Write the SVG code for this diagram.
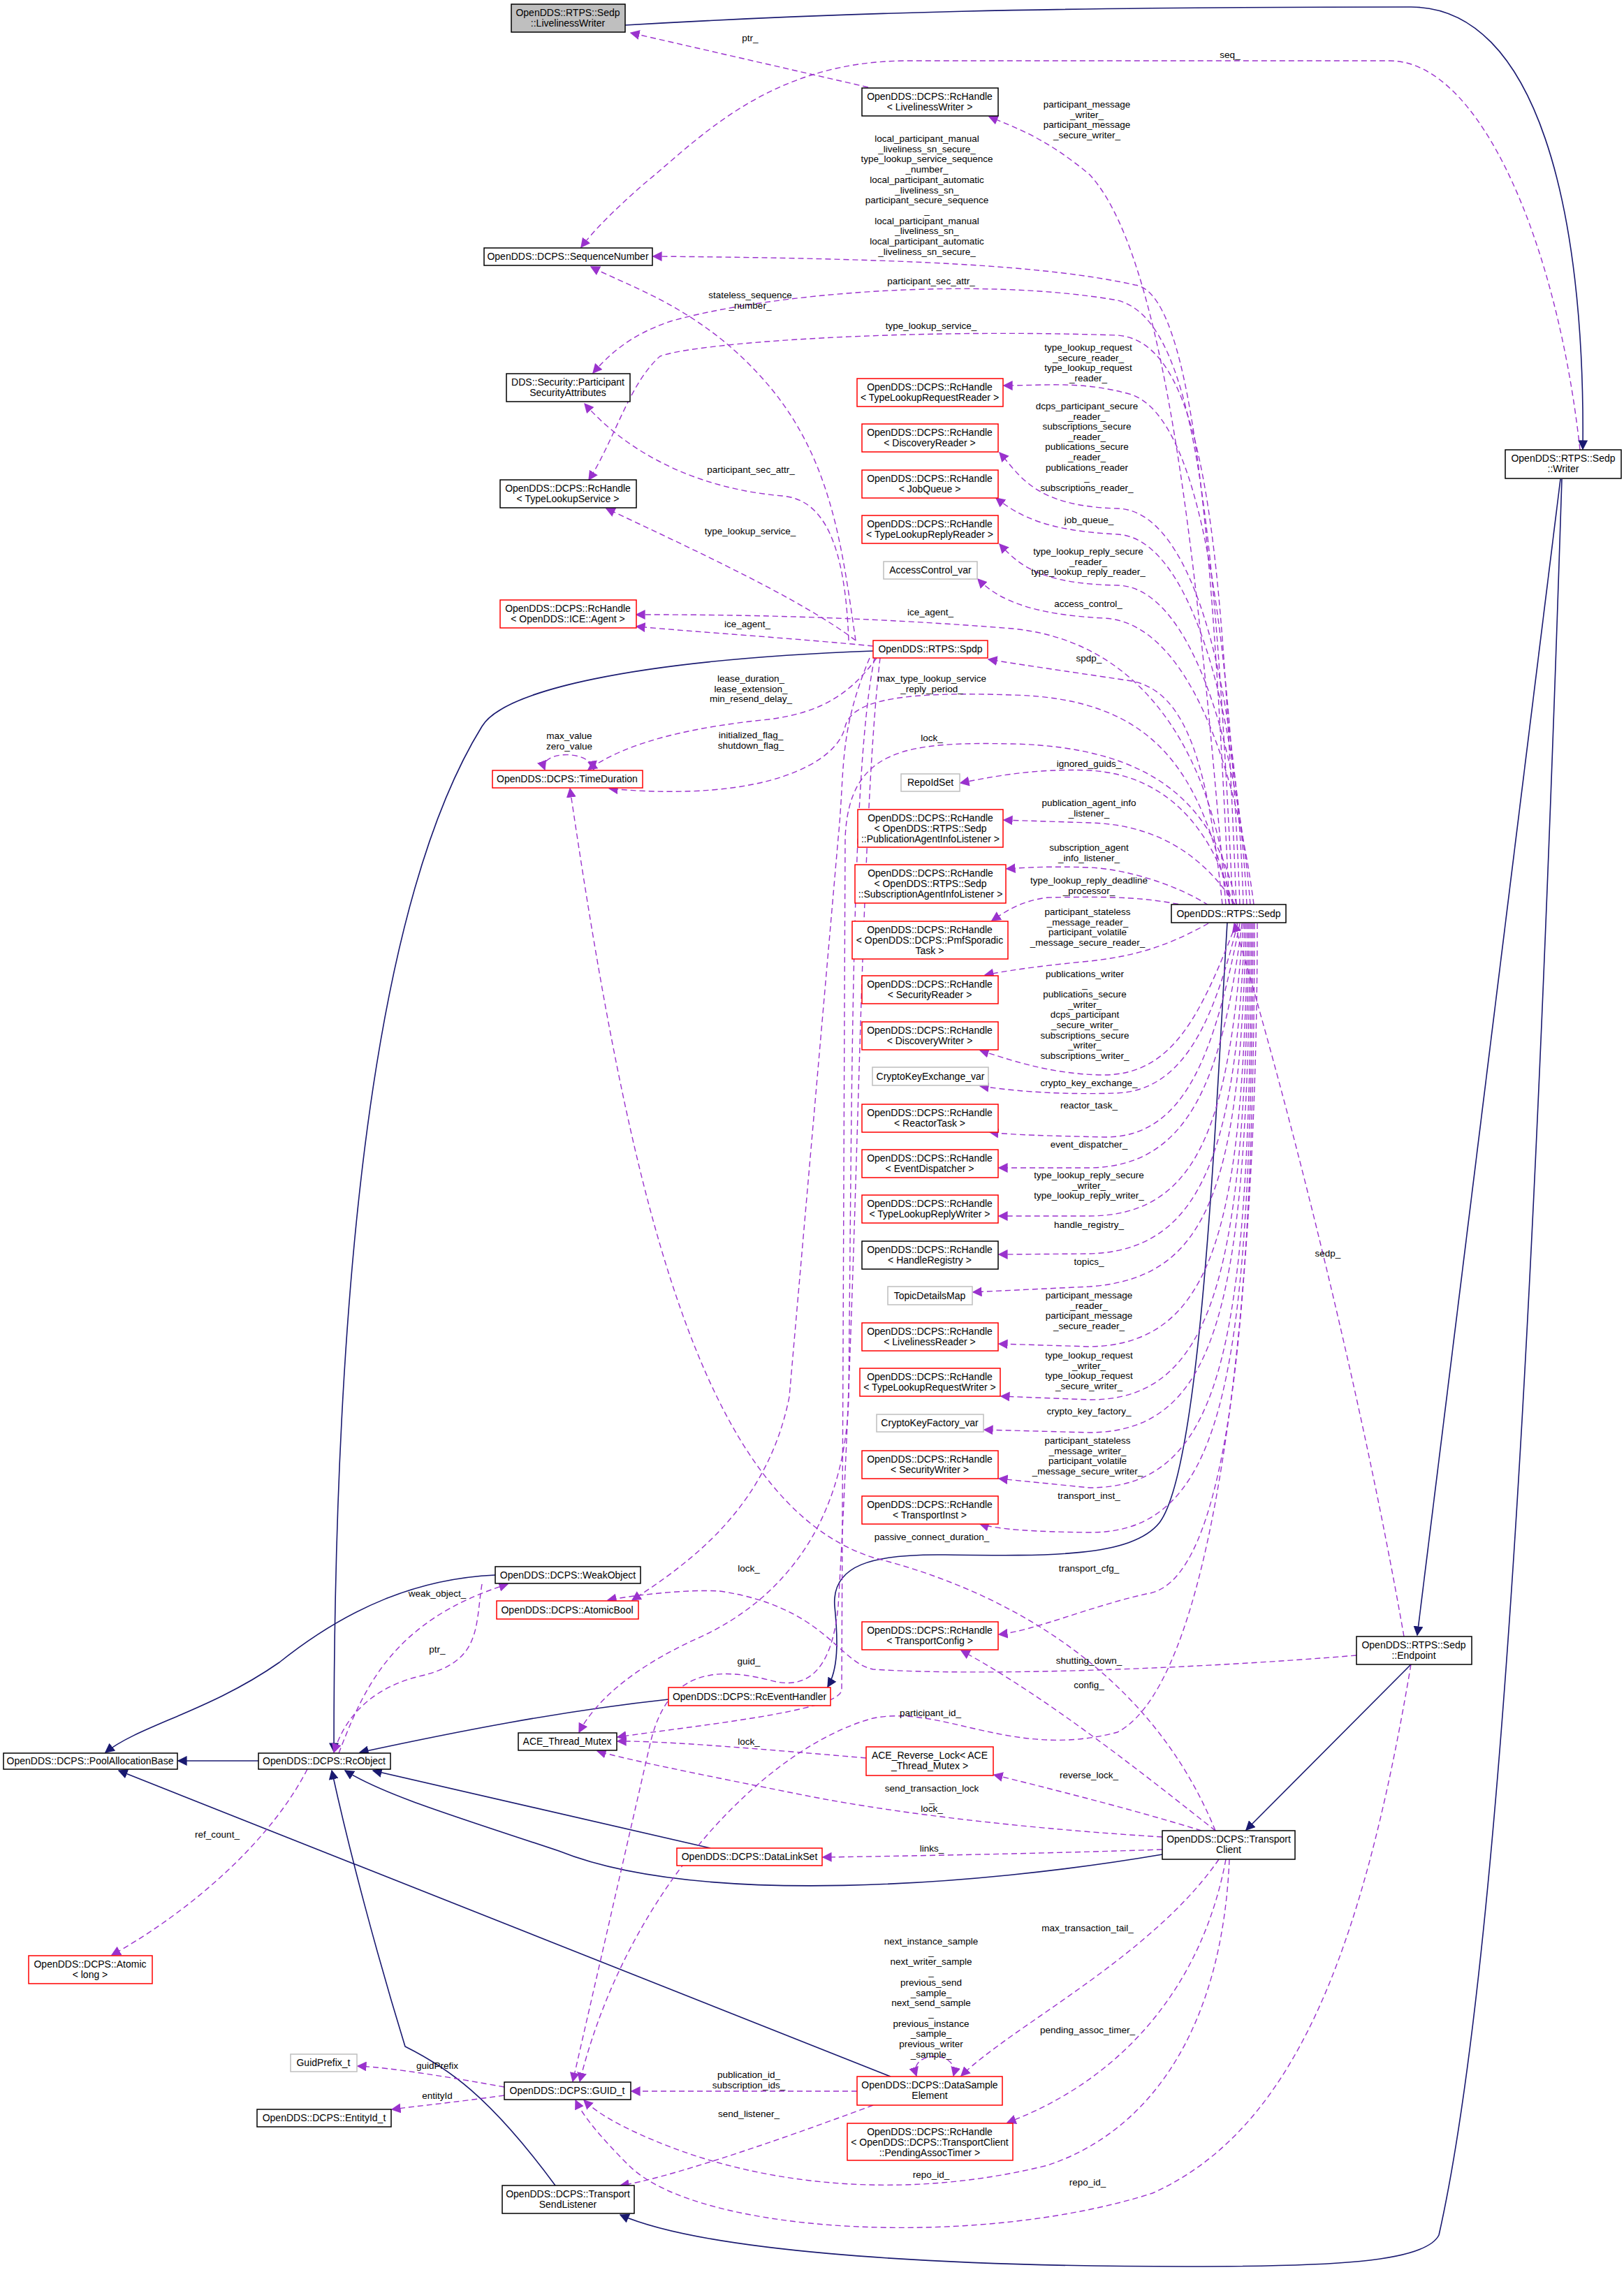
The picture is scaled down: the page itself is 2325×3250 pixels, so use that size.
<svg xmlns="http://www.w3.org/2000/svg" width="2325" height="3250" viewBox="0 0 2325 3250">
<style>
text{font-family:"Liberation Sans",Arial,sans-serif;font-size:14px;fill:#000}
.lbl{font-size:13.5px;text-anchor:middle}
.nt{text-anchor:middle}
rect{fill:#fff;stroke-width:1.5}
.b{stroke:#000}.r{stroke:#ff0000}.g{stroke:#bfbfbf}.f{fill:#bfbfbf;stroke:#000}
.d{fill:none;stroke:#9a32cd;stroke-width:1.4;stroke-dasharray:8,5}
.s{fill:none;stroke:#191970;stroke-width:1.6}
</style>
<defs>
<marker id="ap" viewBox="0 0 10 10" refX="9" refY="5" markerWidth="14" markerHeight="14" markerUnits="userSpaceOnUse" orient="auto-start-reverse"><path d="M0,0L10,5L0,10z" fill="#9a32cd"/></marker>
<marker id="an" viewBox="0 0 10 10" refX="9" refY="5" markerWidth="14" markerHeight="14" markerUnits="userSpaceOnUse" orient="auto"><path d="M0,0L10,5L0,10z" fill="#191970"/></marker>
</defs>
<rect x="0" y="0" width="2325" height="3250" style="fill:#fff;stroke:none"/>
<g id="connectors">
<!-- solid inheritance -->
<path class="s" marker-end="url(#an)" d="M895,36 C1200,18 1500,10 2020,10 C2200,10 2270,300 2266,643"/>
<path class="s" marker-end="url(#an)" d="M2234,686 L2029,2341"/>
<path class="s" marker-end="url(#an)" d="M2236,686 C2200,1800 2150,2800 2060,3200 C2040,3240 1900,3245 1700,3245 C1300,3245 1000,3220 888,3171"/>
<path class="s" marker-end="url(#an)" d="M2020,2383 L1784,2620"/>
<path class="s" marker-end="url(#an)" d="M1664,2655 C1400,2700 1000,2730 800,2650 C650,2600 550,2570 494,2535"/>
<path class="s" marker-end="url(#an)" d="M1017,2646 L534,2535"/>
<path class="s" marker-end="url(#an)" d="M957,2433 C800,2450 650,2480 515,2509"/>
<path class="s" marker-end="url(#an)" d="M1757,1321 C1740,1600 1720,2100 1660,2180 C1620,2230 1500,2228 1350,2226 C1250,2225 1190,2240 1195,2300 C1200,2350 1200,2390 1185,2415"/>
<path class="s" marker-end="url(#an)" d="M1250,932 C900,945 720,990 690,1040 C560,1250 478,1700 478,2508"/>
<path class="s" marker-end="url(#an)" d="M370,2521 L255,2521"/>
<path class="s" marker-end="url(#an)" d="M709,2255 C600,2260 500,2300 400,2380 C300,2450 200,2470 151,2509"/>
<path class="s" marker-end="url(#an)" d="M1275,2973 L170,2535"/>
<path class="s" marker-end="url(#an)" d="M795,3129 C700,3000 640,2960 580,2930 C540,2800 500,2650 475,2535"/>
<!-- dashed usage -->
<path class="d" marker-end="url(#ap)" d="M1243,125 L903,47"/>
<path class="d" marker-end="url(#ap)" d="M1755,1295 C1720,900 1680,380 1560,250 C1500,200 1460,185 1416,167"/>
<path class="d" marker-end="url(#ap)" d="M1760,1295 C1740,900 1720,420 1625,408 C1500,380 1300,370 935,367"/>
<path class="d" marker-end="url(#ap)" d="M2262,644 C2230,350 2120,88 1990,87 L1300,87 C1100,87 1000,200 921,264 C880,300 850,330 832,354"/>
<path class="d" marker-end="url(#ap)" d="M1225,917 C1205,780 1190,650 1090,540 C1000,440 900,410 846,382"/>
<path class="d" marker-end="url(#ap)" d="M1765,1295 C1740,800 1720,460 1600,430 C1400,395 1100,420 960,460 C900,480 870,510 849,534"/>
<path class="d" marker-end="url(#ap)" d="M1215,917 C1210,780 1180,715 1120,710 C1000,700 900,650 837,578"/>
<path class="d" marker-end="url(#ap)" d="M1770,1295 C1750,800 1730,490 1600,480 C1300,470 1000,490 945,510 C900,550 880,630 843,687"/>
<path class="d" marker-end="url(#ap)" d="M1225,917 C1150,860 1000,790 868,728"/>
<path class="d" marker-end="url(#ap)" d="M1775,1295 C1760,900 1720,600 1620,565 C1550,545 1500,552 1437,552"/>
<path class="d" marker-end="url(#ap)" d="M1780,1295 C1770,950 1700,730 1600,728 C1480,725 1460,680 1431,648"/>
<path class="d" marker-end="url(#ap)" d="M1785,1295 C1770,1000 1700,770 1600,765 C1500,760 1460,740 1426,713"/>
<path class="d" marker-end="url(#ap)" d="M1790,1295 C1770,1050 1700,840 1600,838 C1490,836 1460,810 1431,779"/>
<path class="d" marker-end="url(#ap)" d="M1795,1295 C1770,1100 1700,890 1580,885 C1480,880 1430,860 1400,829"/>
<path class="d" marker-end="url(#ap)" d="M1760,1295 C1740,1100 1650,920 1450,900 C1200,880 1000,880 911,880"/>
<path class="d" marker-end="url(#ap)" d="M1250,925 C1150,915 1000,905 911,897"/>
<path class="d" marker-end="url(#ap)" d="M1750,1295 C1730,1100 1700,990 1620,975 C1520,960 1450,950 1415,944"/>
<path class="d" marker-end="url(#ap)" d="M1255,942 C1220,990 1180,1020 1100,1030 C1000,1040 900,1060 842,1102"/>
<path class="d" marker-start="url(#ap)" marker-end="url(#ap)" d="M780,1102 C770,1075 845,1072 850,1102"/>
<path class="d" marker-end="url(#ap)" d="M1760,1295 C1720,1100 1650,1000 1450,995 C1300,990 1220,1000 1210,1040 C1200,1090 1100,1150 872,1129"/>
<path class="d" marker-end="url(#ap)" d="M1740,2621 C1650,2400 1450,2280 1250,2230 C1000,2150 900,1700 816,1129"/>
<path class="d" marker-end="url(#ap)" d="M1765,1295 C1740,1200 1680,1110 1560,1103 C1480,1100 1420,1112 1375,1121"/>
<path class="d" marker-end="url(#ap)" d="M1768,1295 C1720,1220 1650,1180 1560,1178 L1437,1174"/>
<path class="d" marker-end="url(#ap)" d="M1730,1296 C1690,1270 1620,1245 1560,1242 C1500,1240 1470,1242 1441,1244"/>
<path class="d" marker-end="url(#ap)" d="M1700,1297 C1640,1285 1600,1283 1500,1285 C1460,1290 1440,1305 1420,1318"/>
<path class="d" marker-end="url(#ap)" d="M1730,1322 C1680,1350 1630,1370 1550,1377 C1480,1384 1440,1390 1410,1396"/>
<path class="d" marker-end="url(#ap)" d="M1770,1322 C1720,1450 1680,1540 1578,1539 C1500,1538 1440,1515 1403,1504"/>
<path class="d" marker-end="url(#ap)" d="M1772,1322 C1740,1450 1700,1560 1600,1565 C1500,1568 1440,1560 1403,1555"/>
<path class="d" marker-end="url(#ap)" d="M1775,1322 C1740,1500 1700,1630 1580,1628 C1500,1626 1450,1625 1417,1621"/>
<path class="d" marker-end="url(#ap)" d="M1778,1322 C1750,1550 1700,1670 1560,1672 L1430,1672"/>
<path class="d" marker-end="url(#ap)" d="M1780,1322 C1760,1600 1720,1740 1560,1741 L1430,1741"/>
<path class="d" marker-end="url(#ap)" d="M1782,1322 C1770,1650 1720,1790 1560,1795 L1430,1796"/>
<path class="d" marker-end="url(#ap)" d="M1784,1322 C1775,1700 1730,1830 1560,1842 L1393,1850"/>
<path class="d" marker-end="url(#ap)" d="M1786,1322 C1780,1750 1740,1925 1560,1928 L1430,1924"/>
<path class="d" marker-end="url(#ap)" d="M1788,1322 C1782,1800 1745,2005 1560,2004 L1433,1999"/>
<path class="d" marker-end="url(#ap)" d="M1790,1322 C1785,1850 1750,2050 1560,2051 L1409,2047"/>
<path class="d" marker-end="url(#ap)" d="M1792,1322 C1788,1900 1760,2130 1560,2130 L1430,2117"/>
<path class="d" marker-end="url(#ap)" d="M1794,1322 C1790,1950 1760,2195 1560,2194 C1480,2193 1430,2190 1403,2182"/>
<path class="d" marker-end="url(#ap)" d="M1796,1322 C1795,2000 1740,2270 1641,2282 C1560,2300 1480,2335 1430,2340"/>
<path class="d" marker-end="url(#ap)" d="M2010,2343 C1950,2000 1850,1600 1767,1322"/>
<path class="d" marker-end="url(#ap)" d="M1942,2370 C1700,2390 1400,2400 1250,2390 C1200,2380 1180,2300 1030,2278 C980,2275 900,2285 870,2291"/>
<path class="d" marker-end="url(#ap)" d="M1245,942 C1200,1050 1210,1100 1200,1200 L1130,2000 C1100,2150 1000,2230 905,2291"/>
<path class="d" marker-end="url(#ap)" d="M1252,942 C1220,1100 1220,1500 1215,2000 C1210,2200 1100,2300 1000,2345 C900,2390 850,2440 829,2480"/>
<path class="d" marker-end="url(#ap)" d="M1770,1295 C1740,1150 1650,1070 1450,1065 C1300,1062 1215,1070 1210,1200 L1205,2420 C1200,2450 1000,2470 884,2487"/>
<path class="d" marker-end="url(#ap)" d="M1240,2517 C1100,2505 950,2492 884,2493"/>
<path class="d" marker-end="url(#ap)" d="M1664,2630 C1500,2620 1300,2600 1150,2570 C1000,2540 900,2520 855,2507"/>
<path class="d" marker-end="url(#ap)" d="M1720,2621 C1620,2590 1500,2560 1423,2541"/>
<path class="d" marker-end="url(#ap)" d="M1740,2621 C1650,2550 1500,2430 1376,2363"/>
<path class="d" marker-end="url(#ap)" d="M1664,2648 C1450,2655 1250,2658 1178,2659"/>
<path class="d" marker-end="url(#ap)" d="M1800,1322 C1800,1800 1750,2400 1600,2480 C1450,2520 1350,2440 1250,2460 C1100,2500 900,2700 830,2980"/>
<path class="d" marker-end="url(#ap)" d="M1260,942 C1230,1200 1230,1800 1200,2300 C1190,2400 1150,2420 1100,2405 C1000,2380 950,2410 930,2500 L820,2980"/>
<path class="d" marker-end="url(#ap)" d="M485,2510 C520,2420 560,2320 727,2268"/>
<path class="d" marker-end="url(#ap)" d="M690,2268 C680,2330 690,2380 600,2400 C520,2420 490,2470 478,2509"/>
<path class="d" marker-end="url(#ap)" d="M440,2533 C380,2650 250,2750 160,2799"/>
<path class="d" marker-end="url(#ap)" d="M722,2988 C650,2975 560,2960 512,2958"/>
<path class="d" marker-end="url(#ap)" d="M722,3000 C650,3010 600,3015 561,3020"/>
<path class="d" marker-end="url(#ap)" d="M1227,2994 L904,2994"/>
<path class="d" marker-start="url(#ap)" marker-end="url(#ap)" d="M1312,2972 C1300,2935 1375,2935 1365,2972"/>
<path class="d" marker-end="url(#ap)" d="M1745,2662 C1650,2800 1450,2900 1376,2972"/>
<path class="d" marker-end="url(#ap)" d="M1755,2662 C1720,2850 1600,2980 1442,3039"/>
<path class="d" marker-end="url(#ap)" d="M1250,3014 C1100,3070 950,3120 888,3129"/>
<path class="d" marker-end="url(#ap)" d="M1760,2662 C1750,2900 1650,3050 1500,3100 C1300,3150 1100,3130 950,3070 C900,3050 860,3030 836,3007"/>
<path class="d" marker-end="url(#ap)" d="M2020,2383 C1950,2800 1850,3050 1650,3140 C1400,3220 1000,3200 900,3100 C860,3060 835,3030 824,3007"/>
<!-- labels -->
<text class="lbl" x="1074" y="59">ptr_</text>
<text class="lbl" x="1761" y="83">seq_</text>
<text class="lbl" x="1556" y="154">participant_message<tspan x="1556" dy="14.5">_writer_</tspan><tspan x="1556" dy="14.5">participant_message</tspan><tspan x="1556" dy="14.5">_secure_writer_</tspan></text>
<text class="lbl" x="1327" y="203">local_participant_manual<tspan x="1327" dy="14.7">_liveliness_sn_secure_</tspan><tspan x="1327" dy="14.7">type_lookup_service_sequence</tspan><tspan x="1327" dy="14.7">_number_</tspan><tspan x="1327" dy="14.7">local_participant_automatic</tspan><tspan x="1327" dy="14.7">_liveliness_sn_</tspan><tspan x="1327" dy="14.7">participant_secure_sequence</tspan><tspan x="1327" dy="14.7">_</tspan><tspan x="1327" dy="14.7">local_participant_manual</tspan><tspan x="1327" dy="14.7">_liveliness_sn_</tspan><tspan x="1327" dy="14.7">local_participant_automatic</tspan><tspan x="1327" dy="14.7">_liveliness_sn_secure_</tspan></text>
<text class="lbl" x="1333" y="407">participant_sec_attr_</text>
<text class="lbl" x="1074" y="427">stateless_sequence<tspan x="1074" dy="14.5">_number_</tspan></text>
<text class="lbl" x="1333" y="471">type_lookup_service_</text>
<text class="lbl" x="1558" y="502">type_lookup_request<tspan x="1558" dy="14.5">_secure_reader_</tspan><tspan x="1558" dy="14.5">type_lookup_request</tspan><tspan x="1558" dy="14.5">_reader_</tspan></text>
<text class="lbl" x="1556" y="586">dcps_participant_secure<tspan x="1556" dy="14.6">_reader_</tspan><tspan x="1556" dy="14.6">subscriptions_secure</tspan><tspan x="1556" dy="14.6">_reader_</tspan><tspan x="1556" dy="14.6">publications_secure</tspan><tspan x="1556" dy="14.6">_reader_</tspan><tspan x="1556" dy="14.6">publications_reader</tspan><tspan x="1556" dy="14.6">_</tspan><tspan x="1556" dy="14.6">subscriptions_reader_</tspan></text>
<text class="lbl" x="1075" y="677">participant_sec_attr_</text>
<text class="lbl" x="1559" y="749">job_queue_</text>
<text class="lbl" x="1074" y="765">type_lookup_service_</text>
<text class="lbl" x="1558" y="794">type_lookup_reply_secure<tspan x="1558" dy="14.5">_reader_</tspan><tspan x="1558" dy="14.5">type_lookup_reply_reader_</tspan></text>
<text class="lbl" x="1558" y="869">access_control_</text>
<text class="lbl" x="1332" y="881">ice_agent_</text>
<text class="lbl" x="1070" y="898">ice_agent_</text>
<text class="lbl" x="1559" y="947">spdp_</text>
<text class="lbl" x="1334" y="976">max_type_lookup_service<tspan x="1334" dy="14.5">_reply_period_</tspan></text>
<text class="lbl" x="1075" y="976">lease_duration_<tspan x="1075" dy="14.5">lease_extension_</tspan><tspan x="1075" dy="14.5">min_resend_delay_</tspan></text>
<text class="lbl" x="815" y="1058">max_value<tspan x="815" dy="15">zero_value</tspan></text>
<text class="lbl" x="1075" y="1057">initialized_flag_<tspan x="1075" dy="14.5">shutdown_flag_</tspan></text>
<text class="lbl" x="1334" y="1061">lock_</text>
<text class="lbl" x="1559" y="1098">ignored_guids_</text>
<text class="lbl" x="1559" y="1154">publication_agent_info<tspan x="1559" dy="14.5">_listener_</tspan></text>
<text class="lbl" x="1559" y="1218">subscription_agent<tspan x="1559" dy="14.5">_info_listener_</tspan></text>
<text class="lbl" x="1559" y="1265">type_lookup_reply_deadline<tspan x="1559" dy="14.5">_processor_</tspan></text>
<text class="lbl" x="1557" y="1310">participant_stateless<tspan x="1557" dy="14.5">_message_reader_</tspan><tspan x="1557" dy="14.5">participant_volatile</tspan><tspan x="1557" dy="14.5">_message_secure_reader_</tspan></text>
<text class="lbl" x="1553" y="1399">publications_writer<tspan x="1553" dy="14.6">_</tspan><tspan x="1553" dy="14.6">publications_secure</tspan><tspan x="1553" dy="14.6">_writer_</tspan><tspan x="1553" dy="14.6">dcps_participant</tspan><tspan x="1553" dy="14.6">_secure_writer_</tspan><tspan x="1553" dy="14.6">subscriptions_secure</tspan><tspan x="1553" dy="14.6">_writer_</tspan><tspan x="1553" dy="14.6">subscriptions_writer_</tspan></text>
<text class="lbl" x="1559" y="1555">crypto_key_exchange_</text>
<text class="lbl" x="1559" y="1587">reactor_task_</text>
<text class="lbl" x="1559" y="1643">event_dispatcher_</text>
<text class="lbl" x="1559" y="1687">type_lookup_reply_secure<tspan x="1559" dy="14.5">_writer_</tspan><tspan x="1559" dy="14.5">type_lookup_reply_writer_</tspan></text>
<text class="lbl" x="1559" y="1758">handle_registry_</text>
<text class="lbl" x="1901" y="1799">sedp_</text>
<text class="lbl" x="1559" y="1811">topics_</text>
<text class="lbl" x="1559" y="1859">participant_message<tspan x="1559" dy="14.6">_reader_</tspan><tspan x="1559" dy="14.6">participant_message</tspan><tspan x="1559" dy="14.6">_secure_reader_</tspan></text>
<text class="lbl" x="1559" y="1945">type_lookup_request<tspan x="1559" dy="14.6">_writer_</tspan><tspan x="1559" dy="14.6">type_lookup_request</tspan><tspan x="1559" dy="14.6">_secure_writer_</tspan></text>
<text class="lbl" x="1559" y="2025">crypto_key_factory_</text>
<text class="lbl" x="1557" y="2067">participant_stateless<tspan x="1557" dy="14.6">_message_writer_</tspan><tspan x="1557" dy="14.6">participant_volatile</tspan><tspan x="1557" dy="14.6">_message_secure_writer_</tspan></text>
<text class="lbl" x="1559" y="2146">transport_inst_</text>
<text class="lbl" x="1334" y="2205">passive_connect_duration_</text>
<text class="lbl" x="1559" y="2250">transport_cfg_</text>
<text class="lbl" x="1072" y="2250">lock_</text>
<text class="lbl" x="626" y="2286">weak_object_</text>
<text class="lbl" x="626" y="2366">ptr_</text>
<text class="lbl" x="1559" y="2382">shutting_down_</text>
<text class="lbl" x="1072" y="2383">guid_</text>
<text class="lbl" x="1559" y="2417">config_</text>
<text class="lbl" x="1332" y="2457">participant_id_</text>
<text class="lbl" x="1072" y="2498">lock_</text>
<text class="lbl" x="1559" y="2546">reverse_lock_</text>
<text class="lbl" x="1334" y="2565">send_transaction_lock<tspan x="1334" dy="14.5">_</tspan><tspan x="1334" dy="14.5">lock_</tspan></text>
<text class="lbl" x="311" y="2631">ref_count_</text>
<text class="lbl" x="1334" y="2651">links_</text>
<text class="lbl" x="1557" y="2765">max_transaction_tail_</text>
<text class="lbl" x="1333" y="2784">next_instance_sample<tspan x="1333" dy="14.7">_</tspan><tspan x="1333" dy="14.7">next_writer_sample</tspan><tspan x="1333" dy="14.7">_</tspan><tspan x="1333" dy="14.7">previous_send</tspan><tspan x="1333" dy="14.7">_sample_</tspan><tspan x="1333" dy="14.7">next_send_sample</tspan><tspan x="1333" dy="14.7">_</tspan><tspan x="1333" dy="14.7">previous_instance</tspan><tspan x="1333" dy="14.7">_sample_</tspan><tspan x="1333" dy="14.7">previous_writer</tspan><tspan x="1333" dy="14.7">_sample_</tspan></text>
<text class="lbl" x="1557" y="2911">pending_assoc_timer_</text>
<text class="lbl" x="626" y="2962">guidPrefix</text>
<text class="lbl" x="1072" y="2975">publication_id_<tspan x="1072" dy="14.5">subscription_ids_</tspan></text>
<text class="lbl" x="626" y="3005">entityId</text>
<text class="lbl" x="1072" y="3031">send_listener_</text>
<text class="lbl" x="1333" y="3118">repo_id_</text>
<text class="lbl" x="1557" y="3129">repo_id_</text>
</g>
<g id="n1"><rect class="f" x="732" y="6" width="163" height="40"/><text class="nt" x="813" y="23">OpenDDS::RTPS::Sedp</text><text class="nt" x="813" y="38">::LivelinessWriter</text></g>
<g id="n2"><rect class="b" x="1234" y="126" width="195" height="40"/><text class="nt" x="1331" y="143">OpenDDS::DCPS::RcHandle</text><text class="nt" x="1331" y="158">&lt; LivelinessWriter &gt;</text></g>
<g id="n3"><rect class="b" x="693" y="355" width="241" height="25"/><text class="nt" x="813" y="372">OpenDDS::DCPS::SequenceNumber</text></g>
<g id="n4"><rect class="b" x="725" y="535" width="177" height="40"/><text class="nt" x="813" y="552">DDS::Security::Participant</text><text class="nt" x="813" y="567">SecurityAttributes</text></g>
<g id="n5"><rect class="b" x="716" y="687" width="195" height="40"/><text class="nt" x="813" y="704">OpenDDS::DCPS::RcHandle</text><text class="nt" x="813" y="719">&lt; TypeLookupService &gt;</text></g>
<g id="n6"><rect class="r" x="716" y="859" width="195" height="40"/><text class="nt" x="813" y="876">OpenDDS::DCPS::RcHandle</text><text class="nt" x="813" y="891">&lt; OpenDDS::ICE::Agent &gt;</text></g>
<g id="n7"><rect class="r" x="1227" y="542" width="209" height="40"/><text class="nt" x="1331" y="559">OpenDDS::DCPS::RcHandle</text><text class="nt" x="1331" y="574">&lt; TypeLookupRequestReader &gt;</text></g>
<g id="n8"><rect class="r" x="1234" y="607" width="195" height="40"/><text class="nt" x="1331" y="624">OpenDDS::DCPS::RcHandle</text><text class="nt" x="1331" y="639">&lt; DiscoveryReader &gt;</text></g>
<g id="n9"><rect class="r" x="1234" y="673" width="195" height="40"/><text class="nt" x="1331" y="690">OpenDDS::DCPS::RcHandle</text><text class="nt" x="1331" y="705">&lt; JobQueue &gt;</text></g>
<g id="n10"><rect class="r" x="1234" y="738" width="195" height="40"/><text class="nt" x="1331" y="755">OpenDDS::DCPS::RcHandle</text><text class="nt" x="1331" y="770">&lt; TypeLookupReplyReader &gt;</text></g>
<g id="n11"><rect class="g" x="1265" y="804" width="134" height="25"/><text class="nt" x="1332" y="821">AccessControl_var</text></g>
<g id="n12"><rect class="r" x="1250" y="917" width="164" height="25"/><text class="nt" x="1332" y="934">OpenDDS::RTPS::Spdp</text></g>
<g id="n13"><rect class="r" x="705" y="1103" width="215" height="25"/><text class="nt" x="812" y="1120">OpenDDS::DCPS::TimeDuration</text></g>
<g id="n14"><rect class="g" x="1290" y="1108" width="84" height="25"/><text class="nt" x="1332" y="1125">RepoIdSet</text></g>
<g id="n15"><rect class="r" x="1228" y="1159" width="208" height="54"/><text class="nt" x="1332" y="1176">OpenDDS::DCPS::RcHandle</text><text class="nt" x="1332" y="1191">&lt; OpenDDS::RTPS::Sedp</text><text class="nt" x="1332" y="1206">::PublicationAgentInfoListener &gt;</text></g>
<g id="n16"><rect class="r" x="1224" y="1238" width="216" height="55"/><text class="nt" x="1332" y="1255">OpenDDS::DCPS::RcHandle</text><text class="nt" x="1332" y="1270">&lt; OpenDDS::RTPS::Sedp</text><text class="nt" x="1332" y="1285">::SubscriptionAgentInfoListener &gt;</text></g>
<g id="n17"><rect class="r" x="1220" y="1319" width="223" height="54"/><text class="nt" x="1331" y="1336">OpenDDS::DCPS::RcHandle</text><text class="nt" x="1331" y="1351">&lt; OpenDDS::DCPS::PmfSporadic</text><text class="nt" x="1331" y="1366">Task &gt;</text></g>
<g id="n18"><rect class="r" x="1234" y="1397" width="195" height="40"/><text class="nt" x="1331" y="1414">OpenDDS::DCPS::RcHandle</text><text class="nt" x="1331" y="1429">&lt; SecurityReader &gt;</text></g>
<g id="n19"><rect class="r" x="1234" y="1463" width="195" height="40"/><text class="nt" x="1331" y="1480">OpenDDS::DCPS::RcHandle</text><text class="nt" x="1331" y="1495">&lt; DiscoveryWriter &gt;</text></g>
<g id="n20"><rect class="g" x="1249" y="1528" width="166" height="26"/><text class="nt" x="1332" y="1546">CryptoKeyExchange_var</text></g>
<g id="n21"><rect class="r" x="1234" y="1581" width="195" height="40"/><text class="nt" x="1331" y="1598">OpenDDS::DCPS::RcHandle</text><text class="nt" x="1331" y="1613">&lt; ReactorTask &gt;</text></g>
<g id="n22"><rect class="r" x="1234" y="1646" width="195" height="40"/><text class="nt" x="1331" y="1663">OpenDDS::DCPS::RcHandle</text><text class="nt" x="1331" y="1678">&lt; EventDispatcher &gt;</text></g>
<g id="n23"><rect class="r" x="1234" y="1711" width="195" height="40"/><text class="nt" x="1331" y="1728">OpenDDS::DCPS::RcHandle</text><text class="nt" x="1331" y="1743">&lt; TypeLookupReplyWriter &gt;</text></g>
<g id="n24"><rect class="b" x="1234" y="1777" width="195" height="40"/><text class="nt" x="1331" y="1794">OpenDDS::DCPS::RcHandle</text><text class="nt" x="1331" y="1809">&lt; HandleRegistry &gt;</text></g>
<g id="n25"><rect class="g" x="1271" y="1842" width="121" height="26"/><text class="nt" x="1331" y="1860">TopicDetailsMap</text></g>
<g id="n26"><rect class="r" x="1234" y="1894" width="195" height="40"/><text class="nt" x="1331" y="1911">OpenDDS::DCPS::RcHandle</text><text class="nt" x="1331" y="1926">&lt; LivelinessReader &gt;</text></g>
<g id="n27"><rect class="r" x="1231" y="1959" width="201" height="40"/><text class="nt" x="1331" y="1976">OpenDDS::DCPS::RcHandle</text><text class="nt" x="1331" y="1991">&lt; TypeLookupRequestWriter &gt;</text></g>
<g id="n28"><rect class="g" x="1255" y="2025" width="153" height="25"/><text class="nt" x="1331" y="2042">CryptoKeyFactory_var</text></g>
<g id="n29"><rect class="r" x="1234" y="2077" width="195" height="40"/><text class="nt" x="1331" y="2094">OpenDDS::DCPS::RcHandle</text><text class="nt" x="1331" y="2109">&lt; SecurityWriter &gt;</text></g>
<g id="n30"><rect class="r" x="1234" y="2142" width="195" height="40"/><text class="nt" x="1331" y="2159">OpenDDS::DCPS::RcHandle</text><text class="nt" x="1331" y="2174">&lt; TransportInst &gt;</text></g>
<g id="n31"><rect class="r" x="1234" y="2322" width="195" height="40"/><text class="nt" x="1331" y="2339">OpenDDS::DCPS::RcHandle</text><text class="nt" x="1331" y="2354">&lt; TransportConfig &gt;</text></g>
<g id="n32"><rect class="b" x="1677" y="1295" width="164" height="26"/><text class="nt" x="1759" y="1313">OpenDDS::RTPS::Sedp</text></g>
<g id="n33"><rect class="b" x="2155" y="644" width="166" height="41"/><text class="nt" x="2238" y="661">OpenDDS::RTPS::Sedp</text><text class="nt" x="2238" y="676">::Writer</text></g>
<g id="n34"><rect class="b" x="1942" y="2343" width="165" height="40"/><text class="nt" x="2024" y="2360">OpenDDS::RTPS::Sedp</text><text class="nt" x="2024" y="2375">::Endpoint</text></g>
<g id="n35"><rect class="b" x="709" y="2243" width="208" height="24"/><text class="nt" x="813" y="2260">OpenDDS::DCPS::WeakObject</text></g>
<g id="n36"><rect class="r" x="711" y="2292" width="203" height="26"/><text class="nt" x="812" y="2310">OpenDDS::DCPS::AtomicBool</text></g>
<g id="n37"><rect class="r" x="957" y="2416" width="232" height="26"/><text class="nt" x="1073" y="2434">OpenDDS::DCPS::RcEventHandler</text></g>
<g id="n38"><rect class="b" x="742" y="2481" width="141" height="25"/><text class="nt" x="812" y="2498">ACE_Thread_Mutex</text></g>
<g id="n39"><rect class="b" x="5" y="2510" width="249" height="23"/><text class="nt" x="129" y="2526">OpenDDS::DCPS::PoolAllocationBase</text></g>
<g id="n40"><rect class="b" x="370" y="2510" width="189" height="23"/><text class="nt" x="464" y="2526">OpenDDS::DCPS::RcObject</text></g>
<g id="n41"><rect class="r" x="1240" y="2501" width="182" height="41"/><text class="nt" x="1331" y="2518">ACE_Reverse_Lock&lt; ACE</text><text class="nt" x="1331" y="2533">_Thread_Mutex &gt;</text></g>
<g id="n42"><rect class="r" x="969" y="2646" width="208" height="25"/><text class="nt" x="1073" y="2663">OpenDDS::DCPS::DataLinkSet</text></g>
<g id="n43"><rect class="b" x="1664" y="2621" width="190" height="41"/><text class="nt" x="1759" y="2638">OpenDDS::DCPS::Transport</text><text class="nt" x="1759" y="2653">Client</text></g>
<g id="n44"><rect class="r" x="41" y="2800" width="177" height="40"/><text class="nt" x="129" y="2817">OpenDDS::DCPS::Atomic</text><text class="nt" x="129" y="2832">&lt; long &gt;</text></g>
<g id="n45"><rect class="g" x="416" y="2941" width="95" height="25"/><text class="nt" x="463" y="2958">GuidPrefix_t</text></g>
<g id="n46"><rect class="b" x="722" y="2981" width="181" height="25"/><text class="nt" x="812" y="2998">OpenDDS::DCPS::GUID_t</text></g>
<g id="n47"><rect class="b" x="368" y="3020" width="192" height="25"/><text class="nt" x="464" y="3037">OpenDDS::DCPS::EntityId_t</text></g>
<g id="n48"><rect class="r" x="1227" y="2973" width="208" height="41"/><text class="nt" x="1331" y="2990">OpenDDS::DCPS::DataSample</text><text class="nt" x="1331" y="3005">Element</text></g>
<g id="n49"><rect class="r" x="1213" y="3040" width="237" height="53"/><text class="nt" x="1331" y="3057">OpenDDS::DCPS::RcHandle</text><text class="nt" x="1331" y="3072">&lt; OpenDDS::DCPS::TransportClient</text><text class="nt" x="1331" y="3087">::PendingAssocTimer &gt;</text></g>
<g id="n50"><rect class="b" x="719" y="3129" width="189" height="40"/><text class="nt" x="813" y="3146">OpenDDS::DCPS::Transport</text><text class="nt" x="813" y="3161">SendListener</text></g>
</svg>
